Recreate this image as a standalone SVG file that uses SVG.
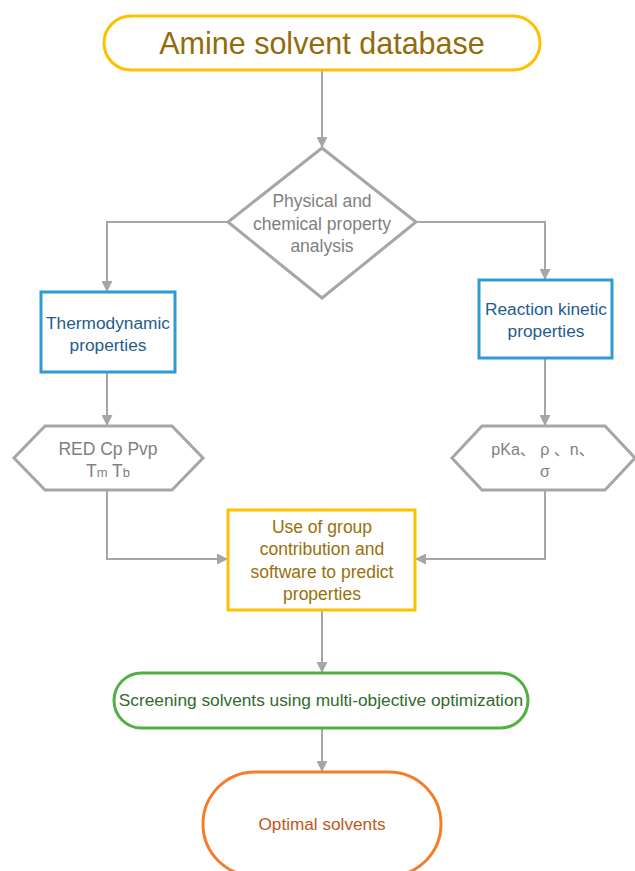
<svg xmlns="http://www.w3.org/2000/svg" width="635" height="871" viewBox="0 0 635 871">
<defs>
<marker id="ah" viewBox="0 0 10 10" refX="10" refY="5" markerWidth="11" markerHeight="11" markerUnits="userSpaceOnUse" orient="auto">
<path d="M0,0 L10,5 L0,10 z" fill="#A6A6A6"/>
</marker>
<style>
text{font-family:"Liberation Sans",Arial,sans-serif;text-anchor:middle;}
.conn{fill:none;stroke:#A6A6A6;stroke-width:2;marker-end:url(#ah);}
.gray{fill:#fff;stroke:#A6A6A6;stroke-width:3;}
.blue{fill:#fff;stroke:#2E9BD6;stroke-width:3;}
.gt{fill:#7F7F7F;font-size:17.5px;}
.bt{fill:#1F5C8F;font-size:17.3px;}
.yt{fill:#996F0A;font-size:17.5px;}
</style>
</defs>
<rect width="635" height="871" fill="#fff"/>
<g id="connectors">
<path class="conn" d="M322,70 V148"/>
<path class="conn" d="M228,222 H107 V292"/>
<path class="conn" d="M416,222 H545 V280"/>
<path class="conn" d="M107,372 V426"/>
<path class="conn" d="M545,358 V426"/>
<path class="conn" d="M107,490 V559 H228"/>
<path class="conn" d="M545,490 V559 H415"/>
<path class="conn" d="M322,610 V673"/>
<path class="conn" d="M322,728 V772"/>
</g>
<g id="start">
<rect x="104" y="16" width="436" height="54" rx="27" fill="#fff" stroke="#FFC000" stroke-width="3"/>
<text x="322" y="54" style="font-size:30.5px;fill:#946B0A">Amine solvent database</text>
</g>
<g id="analysis">
<polygon class="gray" points="322,148 416,222 322,298 228,222"/>
<text class="gt" x="322" y="207">Physical and</text>
<text class="gt" x="322" y="230">chemical property</text>
<text class="gt" x="322" y="252">analysis</text>
</g>
<g id="thermo">
<rect class="blue" x="41" y="292" width="134" height="80"/>
<text class="bt" x="108" y="329">Thermodynamic</text>
<text class="bt" x="108" y="351">properties</text>
</g>
<g id="kinetic">
<rect class="blue" x="479" y="280" width="133" height="78"/>
<text class="bt" x="546" y="315">Reaction kinetic</text>
<text class="bt" x="546" y="337">properties</text>
</g>
<g id="thermo-props">
<polygon class="gray" points="45,426 172,426 203,458 172,490 45,490 14,458"/>
<text class="gt" x="108" y="455">RED Cp Pvp</text>
<text class="gt" x="108" y="477">T<tspan style="font-size:13px">m</tspan> T<tspan style="font-size:13px">b</tspan></text>
</g>
<g id="kinetic-props">
<polygon class="gray" points="482,426 605,426 635,458 605,490 482,490 452,458"/>
<text class="gt" x="543" y="455" style="font-size:16px;font-family:'Liberation Sans','Noto Sans CJK SC',sans-serif">pKa、 ρ 、n、</text>
<text class="gt" x="545" y="477" style="font-size:16px">σ</text>
</g>
<g id="predict">
<rect x="228" y="510" width="187" height="100" fill="#fff" stroke="#FFC000" stroke-width="3"/>
<text class="yt" x="322" y="533">Use of group</text>
<text class="yt" x="322" y="555">contribution and</text>
<text class="yt" x="322" y="578">software to predict</text>
<text class="yt" x="322" y="600">properties</text>
</g>
<g id="screening">
<rect x="114" y="673" width="414" height="55" rx="27.5" fill="#fff" stroke="#52B043" stroke-width="3"/>
<text x="321" y="706" style="font-size:17.3px;fill:#2F6B2A">Screening solvents using multi-objective optimization</text>
</g>
<g id="optimal">
<rect x="203" y="772" width="238" height="104" rx="52" fill="#fff" stroke="#F47D2A" stroke-width="3"/>
<text x="322" y="830" style="font-size:17.2px;fill:#C0561A">Optimal solvents</text>
</g>
</svg>
